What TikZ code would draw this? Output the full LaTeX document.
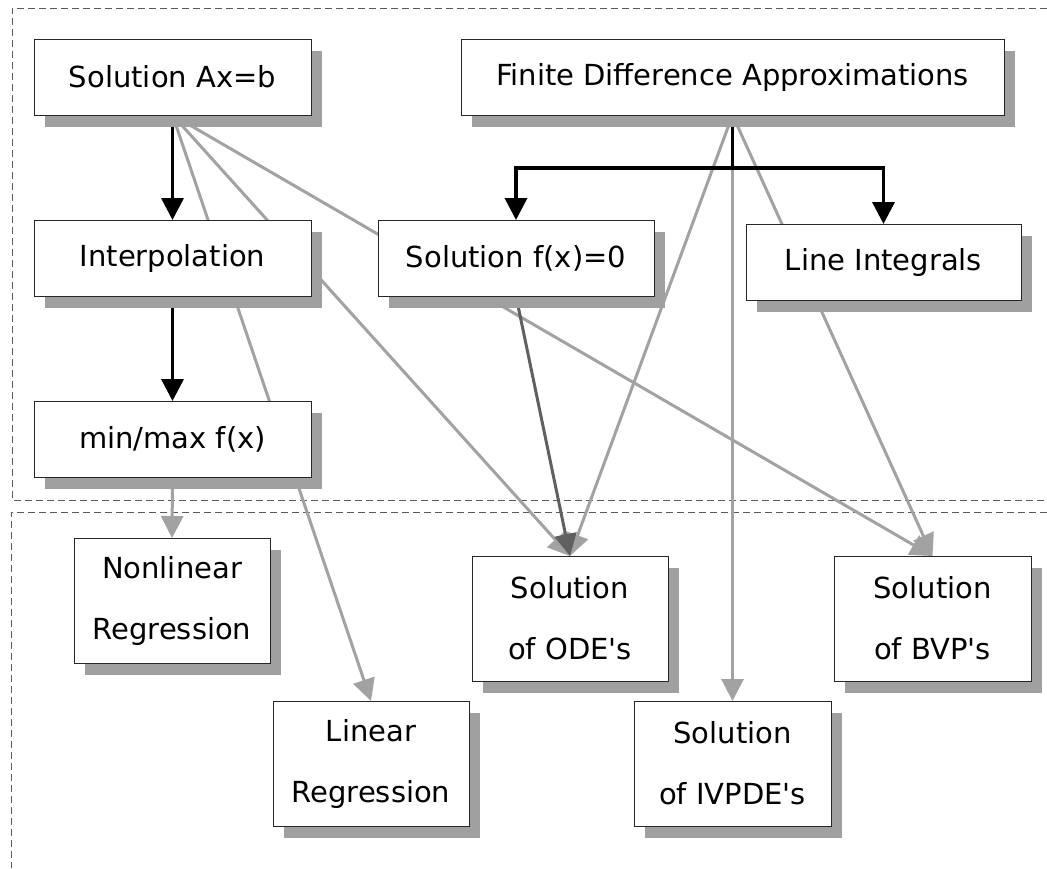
\documentclass[tikz,border=0pt]{standalone}
\usepackage{fontspec}
\newfontfamily\boxfont{DejaVu Sans}
\usetikzlibrary{arrows.meta,shadows}
\pgfdeclarelayer{bg}
\pgfsetlayers{bg,main}
\definecolor{shadowgray}{RGB}{160,160,160}
\definecolor{linegray}{RGB}{162,162,162}
\definecolor{darkline}{RGB}{96,96,96}
\definecolor{framegray}{RGB}{90,90,90}
\begin{document}
\begin{tikzpicture}[x=1pt,y=-1pt,
  box/.style={draw=black!85, line width=1pt, fill=white, outer sep=0pt, inner sep=0pt,
    align=center, font=\boxfont\fontsize{29}{61}\selectfont,
    drop shadow={shadow xshift=11pt, shadow yshift=-12pt, fill=shadowgray, opacity=1}},
  wide/.style={minimum width=#1, minimum height=76pt},
  tall/.style={minimum width=196pt, minimum height=125pt},
  tipstyle/.style={-{Triangle[width=22pt,length=22pt]}},
  graylink/.style={draw=linegray, line width=3pt, tipstyle},
  darklink/.style={draw=darkline, line width=3pt, tipstyle},
  blacklink/.style={draw=black, line width=3.5pt, tipstyle},
  blackline/.style={draw=black, line width=3.5pt},
  frame/.style={draw=framegray, line width=1pt, dash pattern=on 7pt off 4pt}]
\useasboundingbox (0,0) rectangle (1047,868);

% boxes
\node[box, wide=277pt] (ax) at (172.5,77) {Solution Ax=b};
\node[box, wide=543pt] (fd) at (732.5,77) {Finite Difference Approximations};
\node[box, wide=277pt] (interp) at (172.5,258) {Interpolation};
\node[box, wide=276pt] (fx) at (516,258) {Solution f(x)=0};
\node[box, wide=275pt] (li) at (883.5,262) {Line Integrals};
\node[box, wide=277pt] (minmax) at (172.5,439) {min/max f(x)};
\node[box, tall] (nonlin) at (172,600.5) {Nonlinear\\Regression};
\node[box, tall] (linreg) at (371,763.5) {Linear\\Regression};
\node[box, tall] (ode) at (570,618.5) {Solution\\of ODE's};
\node[box, tall, minimum width=197pt] (bvp) at (932.5,618.5) {Solution\\of BVP's};
\node[box, tall, minimum width=197pt] (ivp) at (732.5,763.5) {Solution\\of IVPDE's};

\begin{pgfonlayer}{bg}
  % dashed frames
  \draw[frame] (1047,8) -- (12,8) -- (12,500) -- (1047,500);
  \draw[frame] (1047,512) -- (11,512) -- (11,868);
  % gray connectors
  \draw[graylink] (ax.south) -- (linreg.north);
  \draw[graylink] (ax.south) -- (ode.north);
  \draw[graylink] (ax.south) -- (bvp.north);
  \draw[graylink] (fd.south) -- (ode.north);
  \draw[graylink] (fd.south) -- (ivp.north);
  \draw[graylink] (fd.south) -- (bvp.north);
  \draw[graylink] (minmax.south) -- (nonlin.north);
  % dark connector
  \draw[darklink] (fx.south) -- (ode.north);
  % black connectors
  \draw[blacklink] (ax.south) -- (interp.north);
  \draw[blacklink] (interp.south) -- (minmax.north);
  \draw[blackline] (fd.south) -- ++(0,53) coordinate (split);
  \draw[blacklink] (split) -| (fx.north);
  \draw[blacklink] (split) -| (li.north);
\end{pgfonlayer}
\end{tikzpicture}
\end{document}
